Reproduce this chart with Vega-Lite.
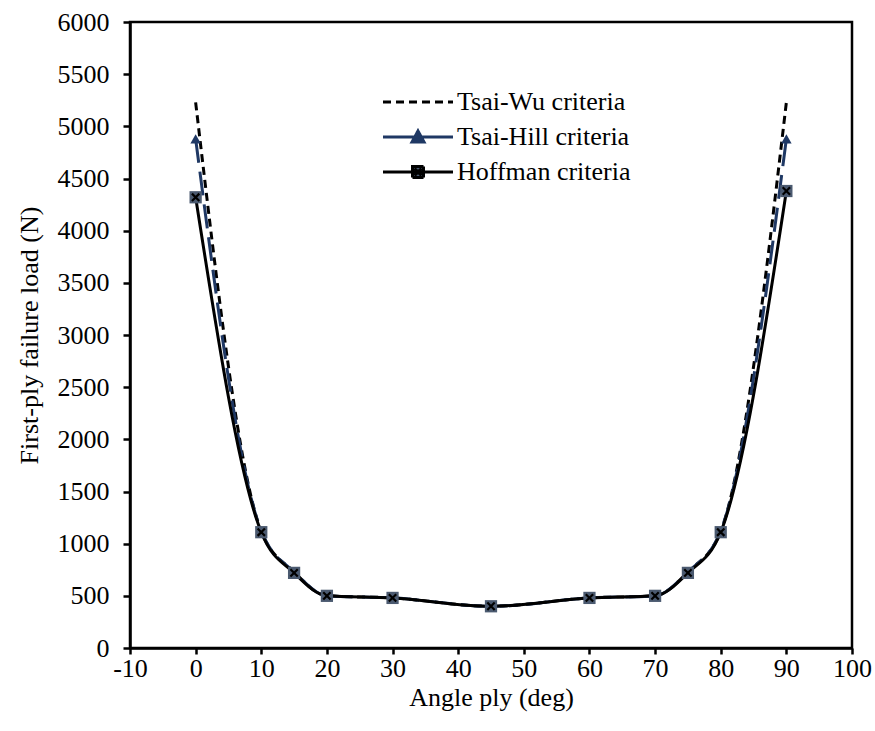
{
  "$schema": "https://vega.github.io/schema/vega-lite/v6.json",
  "autosize": "none",
  "width": 722,
  "height": 626,
  "padding": {"left": 130, "top": 22, "right": 23, "bottom": 83},
  "background": "white",
  "config": {
    "font": "Times New Roman",
    "view": {"stroke": "black", "strokeWidth": 2.5},
    "axis": {
      "grid": false,
      "domainColor": "black",
      "domainWidth": 2.5,
      "tickColor": "black",
      "tickWidth": 2.5,
      "labelFont": "Times New Roman",
      "labelFontSize": 26,
      "labelColor": "black",
      "titleFont": "Liberation Serif",
      "titleFontSize": 26,
      "titleFontWeight": "normal",
      "titleColor": "black",
      "labelFlush": false,
      "labelOverlap": false
    },
    "legend": {
      "labelFont": "Times New Roman",
      "labelFontSize": 26,
      "labelColor": "black",
      "labelLimit": 400
    }
  },
  "data": {
    "values": [
      {"series": "Tsai-Wu criteria", "angle": 0, "load": 5230},
      {"series": "Tsai-Wu criteria", "angle": 10, "load": 1120},
      {"series": "Tsai-Wu criteria", "angle": 15, "load": 730},
      {"series": "Tsai-Wu criteria", "angle": 20, "load": 500},
      {"series": "Tsai-Wu criteria", "angle": 30, "load": 480},
      {"series": "Tsai-Wu criteria", "angle": 45, "load": 400},
      {"series": "Tsai-Wu criteria", "angle": 60, "load": 480},
      {"series": "Tsai-Wu criteria", "angle": 70, "load": 500},
      {"series": "Tsai-Wu criteria", "angle": 75, "load": 730},
      {"series": "Tsai-Wu criteria", "angle": 80, "load": 1120},
      {"series": "Tsai-Wu criteria", "angle": 90, "load": 5230},
      {"series": "Tsai-Hill criteria", "angle": 0, "load": 4880},
      {"series": "Tsai-Hill criteria", "angle": 10, "load": 1120},
      {"series": "Tsai-Hill criteria", "angle": 15, "load": 730},
      {"series": "Tsai-Hill criteria", "angle": 20, "load": 500},
      {"series": "Tsai-Hill criteria", "angle": 30, "load": 480},
      {"series": "Tsai-Hill criteria", "angle": 45, "load": 400},
      {"series": "Tsai-Hill criteria", "angle": 60, "load": 480},
      {"series": "Tsai-Hill criteria", "angle": 70, "load": 500},
      {"series": "Tsai-Hill criteria", "angle": 75, "load": 730},
      {"series": "Tsai-Hill criteria", "angle": 80, "load": 1120},
      {"series": "Tsai-Hill criteria", "angle": 90, "load": 4880},
      {"series": "Hoffman criteria", "angle": 0, "load": 4320},
      {"series": "Hoffman criteria", "angle": 10, "load": 1110},
      {"series": "Hoffman criteria", "angle": 15, "load": 720},
      {"series": "Hoffman criteria", "angle": 20, "load": 500},
      {"series": "Hoffman criteria", "angle": 30, "load": 480},
      {"series": "Hoffman criteria", "angle": 45, "load": 400},
      {"series": "Hoffman criteria", "angle": 60, "load": 480},
      {"series": "Hoffman criteria", "angle": 70, "load": 500},
      {"series": "Hoffman criteria", "angle": 75, "load": 720},
      {"series": "Hoffman criteria", "angle": 80, "load": 1110},
      {"series": "Hoffman criteria", "angle": 90, "load": 4380}
    ]
  },
  "encoding": {
    "x": {
      "field": "angle", "type": "quantitative",
      "scale": {"domain": [-10, 100], "nice": false, "zero": false},
      "axis": {
        "title": "Angle ply (deg)",
        "values": [-10, 0, 10, 20, 30, 40, 50, 60, 70, 80, 90, 100],
        "labelExpr": "'' + datum.value",
        "tickSize": 6, "labelPadding": 1, "titlePadding": 3
      }
    },
    "y": {
      "field": "load", "type": "quantitative",
      "scale": {"domain": [0, 6000], "nice": false},
      "axis": {
        "title": "First-ply failure load (N)",
        "values": [0, 500, 1000, 1500, 2000, 2500, 3000, 3500, 4000, 4500, 5000, 5500, 6000],
        "labelExpr": "'' + datum.value",
        "tickSize": 7, "labelPadding": 14, "titlePadding": 15
      }
    }
  },
  "layer": [
    {
      "transform": [{"filter": "datum.series === 'Tsai-Wu criteria'"}],
      "mark": {"type": "line", "strokeWidth": 3, "interpolate": "monotone", "strokeDash": [8, 5]},
      "encoding": {
        "color": {
          "field": "series", "type": "nominal",
          "scale": {
            "domain": ["Tsai-Wu criteria", "Tsai-Hill criteria", "Hoffman criteria"],
            "range": ["#000000", "#1f3864", "#000000"]
          },
          "legend": {
            "title": null,
            "orient": "none",
            "legendX": 250,
            "legendY": 67,
            "padding": 0,
            "rowPadding": 9,
            "symbolSize": 400,
            "symbolOffset": 25,
            "symbolStrokeWidth": 3,
            "labelOffset": 26,
            "labelFont": "Times New Roman",
            "labelFontSize": 26,
            "encode": {
              "labels": {"update": {"font": {"value": "Times New Roman"}}},
              "symbols": {
                "update": {
                  "shape": {"signal": "datum.value === 'Tsai-Wu criteria' ? 'M-3.5,0H3.5' : datum.value === 'Tsai-Hill criteria' ? 'M-3.5,0H3.5M-0.6,0.5L0,-0.6L0.6,0.5Z' : 'M-3.5,0H3.5M-0.55,-0.55H0.55V0.55H-0.55ZM-0.35,-0.35L0.35,0.35M0.35,-0.35L-0.35,0.35'"},
                  "fill": {"signal": "datum.value === 'Tsai-Hill criteria' ? '#1f3864' : datum.value === 'Hoffman criteria' ? '#4b5a70' : 'transparent'"},
                  "strokeDash": {"signal": "datum.value === 'Tsai-Wu criteria' ? [8, 5] : [1, 0]"},
                  "opacity": {"value": 1},
                  "fillOpacity": {"value": 1}
                }
              }
            }
          }
        }
      }
    },
    {
      "transform": [{"filter": "datum.series === 'Tsai-Hill criteria'"}],
      "mark": {"type": "line", "strokeWidth": 3, "interpolate": "monotone", "strokeDash": [24, 9]},
      "encoding": {"color": {"field": "series", "type": "nominal"}}
    },
    {
      "transform": [{"filter": "datum.series === 'Hoffman criteria'"}],
      "mark": {"type": "line", "strokeWidth": 3, "interpolate": "monotone"},
      "encoding": {"color": {"field": "series", "type": "nominal"}}
    },
    {
      "transform": [{"filter": "datum.series === 'Tsai-Hill criteria'"}],
      "mark": {"type": "point", "shape": "triangle-up", "filled": true, "color": "#1f3864", "size": 110, "opacity": 1}
    },
    {
      "transform": [{"filter": "datum.series === 'Hoffman criteria'"}],
      "mark": {"type": "point", "shape": "square", "filled": true, "color": "#4b5a70", "size": 150, "opacity": 1}
    },
    {
      "transform": [{"filter": "datum.series === 'Hoffman criteria'"}],
      "mark": {"type": "point", "shape": "M-0.6,-0.6L0.6,0.6M0.6,-0.6L-0.6,0.6", "filled": false, "color": "black", "strokeWidth": 2.2, "size": 150, "opacity": 1}
    }
  ]
}
